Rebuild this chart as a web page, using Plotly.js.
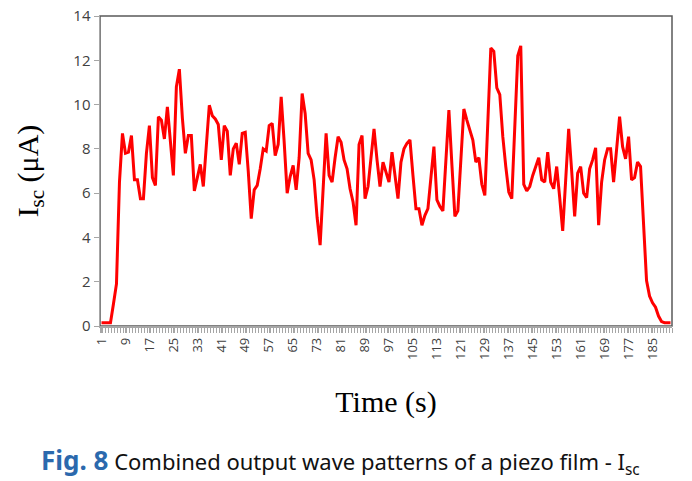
<!DOCTYPE html>
<html><head><meta charset="utf-8">
<script src="https://cdn.plot.ly/plotly-3.0.1.min.js"></script>
<style>html,body{margin:0;padding:0;background:#fff}</style>
</head><body><div id="chart" style="width:692px;height:481px"></div>
<script>
// Short-circuit current Isc (μA), one value per second
const iscValues = [
 0.15,0.15,0.15,0.15,1.0,1.9,6.5,8.7,7.8,7.85,
 8.6,6.6,6.6,5.75,5.75,7.8,9.05,6.7,6.35,9.45,
 9.3,8.45,9.9,8.2,6.8,10.8,11.6,9.4,7.8,8.6,
 8.6,6.1,6.7,7.3,6.3,8.2,9.97,9.5,9.35,9.1,
 7.5,9.05,8.8,6.8,8.0,8.25,7.3,8.7,8.75,7.0,
 4.85,6.15,6.35,7.1,8.0,7.9,9.05,9.15,7.7,8.2,
 10.35,8.3,6.0,6.75,7.25,6.15,7.6,10.5,9.6,7.8,
 7.5,6.6,4.9,3.65,6.2,8.7,6.8,6.5,7.6,8.55,
 8.3,7.5,7.1,6.2,5.6,4.55,8.2,8.6,5.75,6.3,
 7.6,8.9,7.5,6.3,7.4,6.9,6.5,7.85,6.75,5.75,
 7.4,8.0,8.25,8.4,6.8,5.3,5.3,4.55,5.0,5.3,
 6.7,8.1,5.7,5.4,5.2,7.5,9.75,7.3,4.95,5.2,
 7.5,9.8,9.3,8.85,8.4,7.4,7.6,6.4,5.9,9.2,
 12.55,12.4,10.75,10.45,8.55,7.2,6.05,5.75,9.0,12.2,
 12.65,6.4,6.1,6.3,6.8,7.25,7.6,6.6,6.5,7.85,
 6.5,6.2,7.2,5.8,4.3,6.6,8.9,7.0,4.95,6.9,
 7.2,6.0,5.8,7.1,7.5,8.05,4.55,6.5,7.5,8.0,
 8.0,6.5,8.0,9.45,8.1,7.55,8.55,6.6,6.7,7.4,
 7.2,4.6,2.05,1.35,1.05,0.85,0.45,0.2,0.15,0.15,
 0.15
];
// Time categories (s): 1 .. N
const timeSeconds = iscValues.map((v, i) => i + 1);
// Category labels shown on the time axis
const timeTickValues = [1,9,17,25,33,41,49,57,65,73,81,89,97,105,113,121,129,137,145,153,161,169,177,185];
const timeTickLabels = ['1','9','17','25','33','41','49','57','65','73','81','89','97','105','113','121','129','137','145','153','161','169','177','185'];
const iscTickValues = [0,2,4,6,8,10,12,14];

const trace = {
  x: timeSeconds,
  y: iscValues,
  type: 'scatter',
  mode: 'lines',
  line: {color: '#ff0000', width: 3},
  hoverinfo: 'skip'
};

const axisGray = '#a6a6a6';
const layout = {
  width: 692, height: 481,
  margin: {l: 100, r: 20, t: 16, b: 155},
  paper_bgcolor: '#ffffff', plot_bgcolor: '#ffffff',
  showlegend: false,
  xaxis: {
    range: [0.5, timeSeconds.length + 0.5],
    tickmode: 'array', tickvals: timeTickValues, ticktext: timeTickLabels,
    tickangle: -90,
    ticks: 'outside', ticklen: 5, tickwidth: 1, tickcolor: axisGray,
    minor: {tickmode: 'linear', tick0: 0.5, dtick: 1, ticks: 'outside', ticklen: 5, tickwidth: 1, tickcolor: axisGray},
    showline: true, linecolor: axisGray, linewidth: 1.5,
    showgrid: false, zeroline: false,
    tickfont: {family: 'Open Sans, sans-serif', size: 13, color: '#404040'},
    title: {text: 'Time (s)', font: {family: 'Liberation Serif, Times New Roman, serif', size: 30, color: '#000'}, standoff: 32}
  },
  yaxis: {
    range: [0, 14],
    tickmode: 'array', tickvals: iscTickValues,
    ticks: 'outside', ticklen: 5, tickwidth: 1, tickcolor: axisGray,
    showline: true, linecolor: axisGray, linewidth: 1.5,
    showgrid: false, zeroline: false,
    tickfont: {family: 'Open Sans, sans-serif', size: 15, color: '#404040'},
    title: {text: 'I<sub>sc</sub> (μA)', font: {family: 'Liberation Serif, Times New Roman, serif', size: 30, color: '#000'}, standoff: 26}
  },
  shapes: [{
    type: 'rect', xref: 'paper', yref: 'paper', x0: 0, x1: 1, y0: 0, y1: 1,
    line: {color: '#595959', width: 1.5}, layer: 'below'
  }],
  annotations: [{
    xref: 'paper', yref: 'paper', x: 0.421, y: -0.435,
    xanchor: 'center', yanchor: 'middle', showarrow: false,
    text: '<span style="color:#2b69ad;font-size:26px;font-weight:bold">Fig. 8</span> Combined output wave patterns of a piezo film - I<sub>sc</sub>',
    font: {family: 'Noto Sans, sans-serif', size: 22, color: '#111'}
  }]
};

Plotly.newPlot('chart', [trace], layout, {staticPlot: true, displayModeBar: false});
</script>
</body></html>
